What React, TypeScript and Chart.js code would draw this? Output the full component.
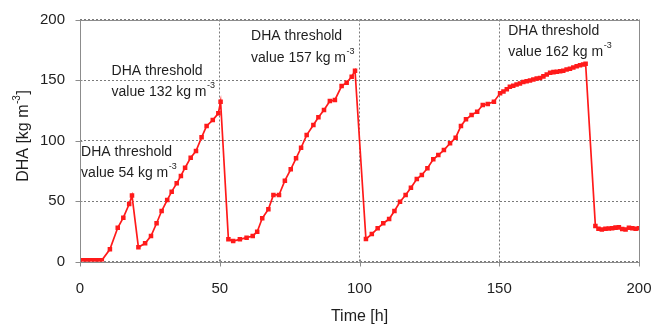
import React, { useEffect, useRef } from "react";
import { Chart, registerables } from "chart.js";

Chart.register(...registerables);

// Time [h]
const timeH = [
  0, 1, 2, 3, 4, 5, 6, 7, 7.8,
  10.7, 13.5, 15.5, 17.6, 18.6,
  20.9, 23.3, 25.4, 27.4, 29.2, 31.2, 32.8, 34.6, 36.1, 37.6, 39.6, 41.5, 43.5, 45.3, 47.5, 49.5, 50.3,
  53.1, 54.8, 57.2, 59.6, 61.8, 63.4, 65.2, 67.4, 69.2, 71.2, 73.3, 75.4, 77.3, 79.1, 81.1, 83.5, 85.3, 87.3, 89.4, 91.2, 93.6, 95.4, 97.2, 98.4,
  102.3, 104.4, 106.5, 108.5, 110.6, 112.5, 114.5, 116.5, 118.4, 120.5, 122.3, 124.3, 126.4, 128.2, 130.2, 132.4, 134.4, 136.3, 138.1, 140.1, 142.1, 144.1, 145.9, 148.1,
  150.3, 151.5, 152.7, 153.8, 155, 156.2, 157.4, 158.6, 159.8, 161, 162.2, 163.4, 164.6, 165.8, 167, 168.2, 169.4, 170.6, 171.8, 172.9, 174.1, 175.3, 176.5, 177.7, 178.9, 180, 180.9,
  184.4, 185.5, 186.7, 188, 189.2, 190.4, 191.6, 192.8, 194, 195.2, 196.4, 197.6, 198.8, 200,
];

// DHA [kg m-3]
const dhaValues = [
  1, 1, 1, 1, 1, 1, 1, 1, 1,
  10.1, 27.9, 36.2, 47.5, 54.5,
  11.7, 15, 21.1, 31.6, 41.7, 50.8, 57.7, 64.6, 70.7, 77.5, 85.8, 91.3, 102.6, 112, 116.9, 122.5, 132,
  18.3, 16.9, 18.3, 19.7, 21.1, 24.6, 35.7, 43.1, 55, 55, 66.8, 76.2, 85.3, 94, 104.5, 112.8, 119.2, 125.2, 132.6, 133.5, 145, 147.8, 152.7, 157.7,
  18.6, 22.7, 27.4, 31.6, 35.1, 41.7, 49.4, 55, 61, 68.2, 71.5, 77, 84.5, 88, 92.1, 97.7, 102.3, 112, 117.5, 121.1, 123.8, 129.3, 130.2, 132.1,
  139, 140.5, 142.3, 144.5, 145.3, 146.2, 147.2, 148.4, 148.9, 149.6, 150.4, 151.3, 151.6, 153, 154.6, 156, 156.5, 156.9, 157.3, 157.7, 158.6, 159.3, 160.4, 161.4, 162.1, 162.8, 163.5,
  29.3, 27, 26.5, 27, 27.3, 27.5, 28, 28.2, 26.8, 26.5, 27.8, 27.5, 27, 27.5,
];

const xTickValues = [0, 50, 100, 150, 200];
const yTickValues = [0, 50, 100, 150, 200];

const xTitle = "Time [h]";
const yTitleMain = "DHA [kg m";
const yTitleSup = "-3";
const yTitleEnd = "]";

// threshold notes: anchor time, line-1 and line-2 DHA levels, threshold value
const noteTimes = [0.4, 11.3, 61.2, 153.2];
const noteLine1 = [90.7, 157.4, 186.4, 190.7];
const noteLine2 = [73.4, 140.3, 168.4, 173.4];
const noteValues = ["54", "132", "157", "162"];

const FONT = "'Liberation Sans', Arial, sans-serif";
const TEXT = "#1e1e1e";
const AXIS = "#8c8c8c";

const overlay = {
  id: "overlay",
  afterDraw(chart: any) {
    const { ctx, chartArea } = chart;
    const xs = chart.scales.x;
    const ys = chart.scales.y;
    const l = Math.round(chartArea.left) + 0.5;
    const r = Math.round(chartArea.right) + 0.5;
    const t = Math.round(chartArea.top) + 0.5;
    const b = Math.round(chartArea.bottom) + 0.5;
    ctx.save();
    // frame
    ctx.strokeStyle = AXIS;
    ctx.lineWidth = 1;
    ctx.setLineDash([]);
    ctx.strokeRect(l, t, r - l, b - t);
    // tick marks
    ctx.beginPath();
    xTickValues.forEach((v) => {
      const px = Math.round(xs.getPixelForValue(v)) + 0.5;
      ctx.moveTo(px, b - 3);
      ctx.lineTo(px, b + 4);
    });
    yTickValues.forEach((v) => {
      const py = Math.round(ys.getPixelForValue(v)) + 0.5;
      ctx.moveTo(l - 5, py);
      ctx.lineTo(l + 2, py);
    });
    ctx.stroke();

    // notes
    ctx.fillStyle = TEXT;
    ctx.textBaseline = "middle";
    ctx.textAlign = "left";
    noteTimes.forEach((tm, i) => {
      const px = xs.getPixelForValue(tm);
      const p1 = ys.getPixelForValue(noteLine1[i]);
      const p2 = ys.getPixelForValue(noteLine2[i]);
      ctx.font = `14px ${FONT}`;
      ctx.fillText("DHA threshold", px, p1);
      const s = `value ${noteValues[i]} kg m`;
      ctx.fillText(s, px, p2);
      const w = ctx.measureText(s).width;
      ctx.font = `9px ${FONT}`;
      ctx.fillText("-3", px + w + 0.5, p2 - 6);
    });

    // x title
    ctx.font = `16px ${FONT}`;
    ctx.textAlign = "center";
    ctx.fillText(xTitle, (chartArea.left + chartArea.right) / 2, 317);

    // y title (rotated)
    ctx.translate(24, 136);
    ctx.rotate(-Math.PI / 2);
    ctx.font = `16px ${FONT}`;
    const w1 = ctx.measureText(yTitleMain).width;
    ctx.font = `10px ${FONT}`;
    const w2 = ctx.measureText(yTitleSup).width;
    ctx.font = `16px ${FONT}`;
    const w3 = ctx.measureText(yTitleEnd).width;
    const total = w1 + w2 + w3 + 1;
    let cx = -total / 2;
    ctx.textAlign = "left";
    ctx.fillText(yTitleMain, cx, 0);
    cx += w1 + 0.5;
    ctx.font = `10px ${FONT}`;
    ctx.fillText(yTitleSup, cx, -7);
    cx += w2 + 0.5;
    ctx.font = `16px ${FONT}`;
    ctx.fillText(yTitleEnd, cx, 0);
    ctx.restore();
  },
};

export default function App() {
  const ref = useRef<HTMLCanvasElement | null>(null);
  useEffect(() => {
    if (!ref.current) return;
    const points = timeH.map((t, i) => ({ x: t, y: dhaValues[i] }));
    const chart = new Chart(ref.current, {
      type: "line",
      data: {
        datasets: [
          {
            data: points,
            borderColor: "#ff1a1a",
            backgroundColor: "#ff1a1a",
            borderWidth: 1.7,
            pointStyle: "rect",
            pointRadius: 3.2,
            pointBorderWidth: 0,
            pointHoverRadius: 3.2,
            tension: 0,
            fill: false,
          },
        ],
      },
      options: {
        responsive: false,
        animation: false,
        devicePixelRatio: 1,
        layout: { padding: { left: 0, right: 16, top: 19.5, bottom: 0 } },
        plugins: {
          legend: { display: false },
          tooltip: { enabled: false },
          title: { display: false },
        },
        scales: {
          x: {
            type: "linear",
            min: 0,
            max: 200,
            afterFit: (s: any) => {
              s.height = 63.5;
              s.paddingLeft = 0;
              s.paddingRight = 0;
            },
            afterBuildTicks: (s: any) => {
              s.ticks = xTickValues.map((v) => ({ value: v }));
            },
            grid: {
              color: "#7a7a7a",
              lineWidth: 1,
              drawTicks: false,
            },
            border: { display: false, dash: [2, 2] },
            ticks: {
              padding: 18,
              color: TEXT,
              font: { family: FONT, size: 15 },
              maxRotation: 0,
            },
          },
          y: {
            type: "linear",
            min: 0,
            max: 200,
            afterFit: (s: any) => {
              s.width = 80;
              s.paddingTop = 0;
              s.paddingBottom = 0;
            },
            afterBuildTicks: (s: any) => {
              s.ticks = yTickValues.map((v) => ({ value: v }));
            },
            grid: {
              color: "#7a7a7a",
              lineWidth: 1,
              drawTicks: false,
            },
            border: { display: false, dash: [2, 2] },
            ticks: {
              padding: 15,
              color: TEXT,
              font: { family: FONT, size: 15 },
            },
          },
        },
      },
      plugins: [overlay],
    });
    return () => chart.destroy();
  }, []);
  return (
    <div style={{ position: "absolute", left: 0, top: 0, width: 655, height: 325, background: "#fff" }}>
      <canvas ref={ref} width={655} height={325} style={{ width: 655, height: 325 }} />
    </div>
  );
}
